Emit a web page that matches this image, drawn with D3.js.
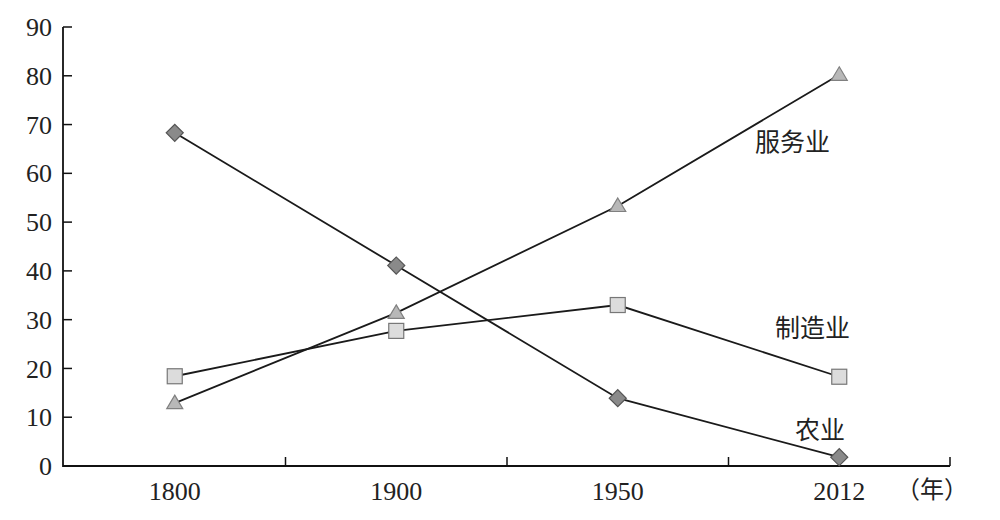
<!DOCTYPE html>
<html><head><meta charset="utf-8">
<script src="https://cdn.jsdelivr.net/npm/d3@7"></script>
<style>body{margin:0;background:#fff}svg{display:block}</style>
</head><body>
<svg id="c" width="1000" height="520"></svg>
<script>
const categories = ["1800", "1900", "1950", "2012"];
const agriculture = [68.3, 41.1, 13.9, 1.8];
const manufacturing = [18.4, 27.7, 33.0, 18.3];
const services = [12.9, 31.4, 53.3, 80.2];
const yTicks = [0, 10, 20, 30, 40, 50, 60, 70, 80, 90];
const seriesNames = ["农业", "制造业", "服务业"];
const unitLabel = "（年）";

const svg = d3.select("#c");
const x = d3.scaleBand().domain(categories).range([64, 950]).padding(0);
const y = d3.scaleLinear().domain([0, 90]).range([466, 27]);
const cx = d => x(d) + x.bandwidth() / 2;

// axes
const gx = svg.append("g").attr("transform", "translate(0,466)");
gx.append("line").attr("x1", 63).attr("x2", 950).attr("stroke", "#111").attr("stroke-width", 1.8);
const bounds = categories.slice(1).map(c => x(c)).concat([x(categories[3]) + x.bandwidth()]);
gx.selectAll(".xt").data(bounds).join("line")
  .attr("x1", d => d).attr("x2", d => d).attr("y1", 0).attr("y2", -9)
  .attr("stroke", "#111").attr("stroke-width", 1.5);
gx.selectAll(".xl").data(categories).join("text")
  .attr("x", d => cx(d)).attr("y", 25).attr("dy", "0.35em")
  .attr("text-anchor", "middle").attr("font-family", "Liberation Serif, serif")
  .attr("font-size", 26).attr("fill", "#222").text(d => d);
gx.append("text").attr("x", 932).attr("y", 24).attr("dy", "0.35em")
  .attr("text-anchor", "middle").attr("font-family", "Noto Sans CJK SC")
  .attr("font-size", 24).attr("fill", "#222").text(unitLabel);

const gy = svg.append("g");
gy.append("line").attr("x1", 63).attr("x2", 63).attr("y1", y(90)).attr("y2", 466.9)
  .attr("stroke", "#111").attr("stroke-width", 1.8);
gy.selectAll(".yt").data(yTicks.slice(1)).join("line")
  .attr("x1", 63).attr("x2", 72).attr("y1", d => y(d)).attr("y2", d => y(d))
  .attr("stroke", "#111").attr("stroke-width", 1.5);
gy.selectAll(".yl").data(yTicks).join("text")
  .attr("x", 52).attr("y", d => y(d)).attr("dy", "0.35em")
  .attr("text-anchor", "end").attr("font-family", "Liberation Serif, serif")
  .attr("font-size", 26).attr("fill", "#222").text(d => d);

// lines
const line = d3.line().x((d, i) => cx(categories[i])).y(d => y(d));
[agriculture, manufacturing, services].forEach(s => {
  svg.append("path").attr("d", line(s)).attr("fill", "none")
    .attr("stroke", "#1a1a1a").attr("stroke-width", 1.8);
});

// markers
const diamond = d3.symbol().type(d3.symbolSquare).size(145);
svg.selectAll(".dm").data(agriculture).join("path")
  .attr("d", diamond())
  .attr("transform", (d, i) => `translate(${cx(categories[i])},${y(d)}) rotate(45)`)
  .attr("fill", "#8a8a8a").attr("stroke", "#555").attr("stroke-width", 1.2);
svg.selectAll(".sq").data(manufacturing).join("rect")
  .attr("x", (d, i) => cx(categories[i]) - 7.5).attr("y", d => y(d) - 7.5)
  .attr("width", 15).attr("height", 15)
  .attr("fill", "#dcdcdc").attr("stroke", "#777").attr("stroke-width", 1.2);
svg.selectAll(".tr").data(services).join("path")
  .attr("d", (d, i) => {
    const px = cx(categories[i]), py = y(d);
    return `M${px},${py - 8}L${px + 8},${py + 5.5}L${px - 8},${py + 5.5}Z`;
  })
  .attr("fill", "#b8b8b8").attr("stroke", "#808080").attr("stroke-width", 1.2);

// series labels
const labelPos = [[795, 430], [775, 328], [755, 142]];
seriesNames.forEach((n, i) => {
  svg.append("text").attr("x", labelPos[i][0]).attr("y", labelPos[i][1]).attr("dy", "0.35em")
    .attr("font-family", "Noto Sans CJK SC").attr("font-size", 25).attr("fill", "#222").text(n);
});
</script>
</body></html>
